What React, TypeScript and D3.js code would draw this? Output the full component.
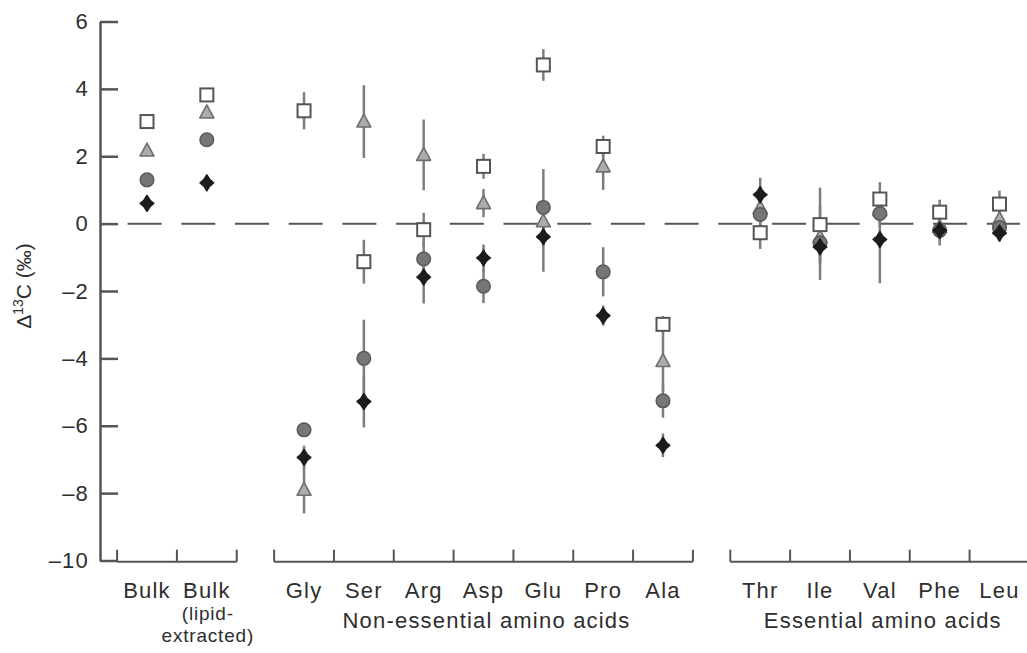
import React, { useEffect, useRef } from "react";
import * as d3 from "d3";

// ---- data ----
const categories = ["Bulk", "Bulk", "Gly", "Ser", "Arg", "Asp", "Glu", "Pro", "Ala", "Thr", "Ile", "Val", "Phe", "Leu"];
const categoryGroup = [0, 0, 1, 1, 1, 1, 1, 1, 1, 2, 2, 2, 2, 2];
const groupLabels = ["", "Non-essential amino acids", "Essential amino acids"];
const yTicks = [6, 4, 2, 0, -2, -4, -6, -8, -10];

const squareValues = [3.03, 3.82, 3.35, -1.13, -0.18, 1.7, 4.71, 2.29, -2.99, -0.27, -0.03, 0.73, 0.34, 0.58];
const squareErrors = [0, 0, 0.55, 0.65, 0.5, 0.37, 0.47, 0.32, 0.25, 0.48, 1.1, 0.5, 0.37, 0.4];
const triangleValues = [2.17, 3.3, -7.9, 3.03, 2.04, 0.61, 0.07, 1.7, -4.08, 0.47, -0.4, 0.4, -0.1, 0.13];
const triangleErrors = [0, 0, 0.7, 1.08, 1.05, 0.42, 0.5, 0.7, 0.9, 0.4, 0.5, 0.4, 0.3, 0.3];
const circleValues = [1.3, 2.49, -6.12, -4.0, -1.05, -1.86, 0.48, -1.43, -5.26, 0.27, -0.57, 0.3, -0.2, -0.12];
const circleErrors = [0, 0, 0, 1.15, 0.5, 0.5, 1.14, 0.73, 0.5, 0.4, 1.1, 0.4, 0.45, 0.3];
const diamondValues = [0.6, 1.21, -6.94, -5.28, -1.59, -1.02, -0.39, -2.73, -6.58, 0.86, -0.69, -0.47, -0.2, -0.28];
const diamondErrors = [0, 0, 0.35, 0.77, 0.78, 0.4, 1.04, 0.3, 0.35, 0.5, 0.5, 1.3, 0.3, 0.25];

const W = 1027;
const H = 653;
const FONT = "'Liberation Sans', Arial, Helvetica, sans-serif";
const TEXT = "#2e2e2e";
const AXIS = "#555";

export default function App() {
  const ref = useRef<SVGSVGElement | null>(null);

  useEffect(() => {
    const svg = d3.select(ref.current);
    svg.selectAll("*").remove();

    const GAP = 0.625;
    const slot = (i: number) => i + categoryGroup[i] * GAP;
    const x = d3.scaleLinear().domain([0, slot(categories.length - 1)]).range([147, 999.5]);
    const y = d3.scaleLinear().domain([-10, 6]).range([560.5, 21.5]);
    const step = x(1) - x(0);

    // y axis
    const yAxis = d3
      .axisLeft(y)
      .tickValues(yTicks)
      .tickSizeInner(-18)
      .tickSizeOuter(0)
      .tickPadding(11)
      .tickFormat((d) => {
        const v = d as number;
        return v < 0 ? "\u2013" + Math.abs(v) : String(v);
      });
    const ga = svg.append("g").attr("transform", "translate(100,0)").call(yAxis);
    ga.select(".domain").attr("stroke", AXIS).attr("stroke-width", 2.5);
    ga.selectAll(".tick line").attr("stroke", AXIS).attr("stroke-width", 2.5);
    ga.selectAll(".tick text")
      .attr("fill", TEXT)
      .attr("font-family", FONT)
      .attr("font-size", 22)
      .attr("letter-spacing", 1.2);

    // y label
    const yl = svg
      .append("text")
      .attr("transform", "translate(31,286) rotate(-90)")
      .attr("text-anchor", "middle")
      .attr("font-family", FONT)
      .attr("font-size", 21)
      .attr("fill", TEXT);
    yl.append("tspan").text("\u0394");
    yl.append("tspan").attr("font-size", 14).attr("dy", -8).text("13");
    yl.append("tspan").attr("dy", 8).text("C (\u2030)");

    // zero dashed line
    svg
      .append("line")
      .attr("x1", 127.6)
      .attr("x2", 1020)
      .attr("y1", y(0))
      .attr("y2", y(0))
      .attr("stroke", AXIS)
      .attr("stroke-width", 2)
      .attr("stroke-dasharray", "34 19.7");

    // category brackets
    const groups = d3.groups(
      categories.map((c, i) => ({ c, i, g: categoryGroup[i] })),
      (d) => d.g
    );
    const by = 561.7;
    groups.forEach(([g, items]) => {
      const x0 = x(slot(items[0].i)) - step / 2;
      const x1 = x(slot(items[items.length - 1].i)) + step / 2;
      const gg = svg.append("g").attr("stroke", AXIS).attr("stroke-width", 2).attr("fill", "none");
      gg.append("line").attr("x1", x0).attr("x2", x1).attr("y1", by).attr("y2", by);
      const ticks = [x0, ...items.slice(1).map((d) => x(slot(d.i)) - step / 2), x1];
      ticks.forEach((tx) => {
        gg.append("line").attr("x1", tx).attr("x2", tx).attr("y1", by).attr("y2", by - 12);
      });
      if (groupLabels[g]) {
        const cx = (x(slot(items[0].i)) + x(slot(items[items.length - 1].i))) / 2 + 3;
        svg
          .append("text")
          .attr("x", cx)
          .attr("y", 628)
          .attr("text-anchor", "middle")
          .attr("font-family", FONT)
          .attr("font-size", 22)
          .attr("letter-spacing", 1.2)
          .attr("fill", TEXT)
          .text(groupLabels[g]);
      }
    });

    // category labels
    categories.forEach((c, i) => {
      svg
        .append("text")
        .attr("x", x(slot(i)))
        .attr("y", 598)
        .attr("text-anchor", "middle")
        .attr("font-family", FONT)
        .attr("font-size", 22)
        .attr("letter-spacing", 1.2)
        .attr("fill", TEXT)
        .text(c);
    });
    const sub = ["(lipid-", "extracted)"];
    sub.forEach((s, k) => {
      svg
        .append("text")
        .attr("x", x(slot(1)) + 1)
        .attr("y", 620 + k * 22)
        .attr("text-anchor", "middle")
        .attr("font-family", FONT)
        .attr("font-size", 19)
        .attr("letter-spacing", 0.8)
        .attr("fill", TEXT)
        .text(s);
    });

    // series
    const series = [
      { key: "triangle", values: triangleValues, errors: triangleErrors },
      { key: "circle", values: circleValues, errors: circleErrors },
      { key: "diamond", values: diamondValues, errors: diamondErrors },
      { key: "square", values: squareValues, errors: squareErrors },
    ];

    // error bars first
    const eb = svg.append("g").attr("stroke", "#7d7d7d").attr("stroke-width", 2.5);
    series.forEach((s) => {
      s.values.forEach((v, i) => {
        const e = s.errors[i];
        if (!e) return;
        eb.append("line")
          .attr("x1", x(slot(i)))
          .attr("x2", x(slot(i)))
          .attr("y1", y(v + e))
          .attr("y2", y(v - e));
      });
    });

    const mg = svg.append("g");
    series.forEach((s) => {
      s.values.forEach((v, i) => {
        const cx = x(slot(i));
        const cy = y(v);
        const g = mg.append("g").attr("transform", `translate(${cx},${cy})`);
        if (s.key === "square") {
          g.append("rect")
            .attr("x", -6.5)
            .attr("y", -6.5)
            .attr("width", 13)
            .attr("height", 13)
            .attr("fill", "#fff")
            .attr("stroke", "#555")
            .attr("stroke-width", 2);
        } else if (s.key === "triangle") {
          g.append("path")
            .attr("d", "M0,-7.5L7,5.5L-7,5.5Z")
            .attr("fill", "#acacac")
            .attr("stroke", "#6e6e6e")
            .attr("stroke-width", 1.6)
            .attr("stroke-linejoin", "round");
        } else if (s.key === "circle") {
          g.append("circle")
            .attr("r", 6.8)
            .attr("fill", "#767676")
            .attr("stroke", "#5a5a5a")
            .attr("stroke-width", 1.5);
        } else {
          g.append("path")
            .attr("d", "M0,-8Q2.6,-2.6 6.8,0Q2.6,2.6 0,8Q-2.6,2.6 -6.8,0Q-2.6,-2.6 0,-8Z")
            .attr("fill", "#1c1c1c")
            .attr("stroke", "#1c1c1c")
            .attr("stroke-width", 1.5)
            .attr("stroke-linejoin", "round");
        }
      });
    });
  }, []);

  return (
    <svg
      ref={ref}
      width={W}
      height={H}
      style={{ position: "absolute", left: 0, top: 0, background: "#fff", display: "block" }}
    />
  );
}
